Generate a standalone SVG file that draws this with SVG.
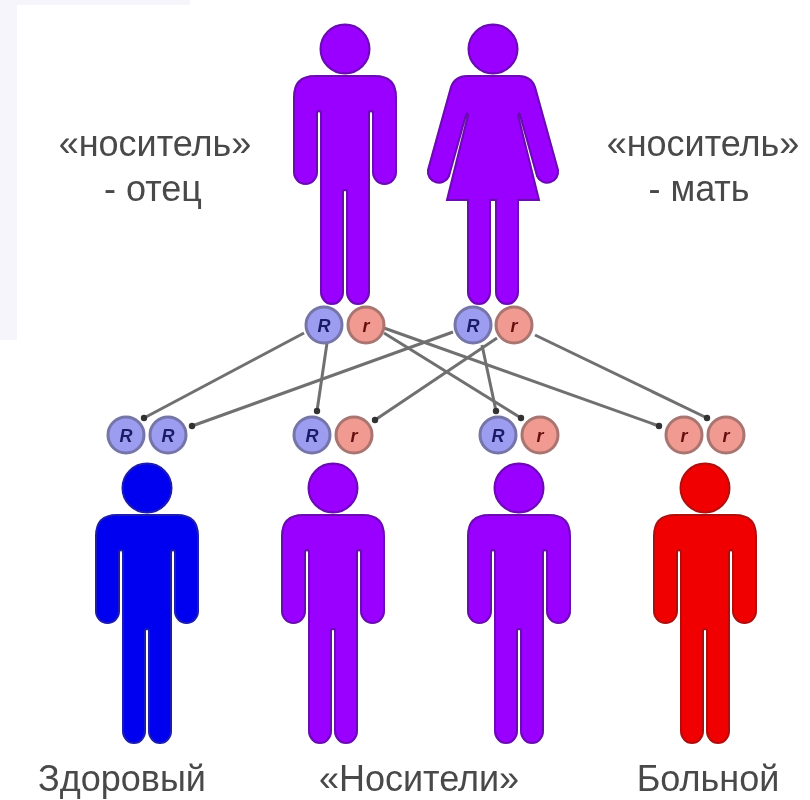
<svg xmlns="http://www.w3.org/2000/svg" width="810" height="800" viewBox="0 0 810 800">
<style>
.lbl{font-family:"Liberation Sans",Arial,sans-serif;font-size:36px;fill:#484848;text-anchor:middle}
.p{fill:#9900ff;stroke:#6a08b0;stroke-width:2}
.b{fill:#0000f0;stroke:#1a1ab0;stroke-width:2}
.d{fill:#f00000;stroke:#b01010;stroke-width:2}
.R{fill:#9c9cf0;stroke:#7474a8;stroke-width:3}
.r{fill:#f09a92;stroke:#a87470;stroke-width:3}
.gt{font-family:"Liberation Sans",Arial,sans-serif;font-size:18px;font-weight:bold;font-style:italic;text-anchor:middle}
.gR{fill:#1a1a66}.gr{fill:#661010}
.c line{stroke:#707070;stroke-width:3;marker-end:url(#dot)}
</style>
<defs>
<filter id="soft" x="-5%" y="-5%" width="110%" height="110%"><feGaussianBlur stdDeviation="0.6"/></filter>
<marker id="dot" markerUnits="userSpaceOnUse" markerWidth="8" markerHeight="8" refX="4" refY="4"><circle cx="4" cy="4" r="3.2" fill="#333"/></marker>
<g id="man">
<circle cx="0" cy="0" r="24.5"/>
<path d="M-30,27H30Q51,27 51,48V123A11.5,12 0 0 1 28,123V65Q28,62 26,62Q24,62 24,65V243A11,12 0 0 1 2,243V143Q2,141 0,141Q-2,141 -2,143V243A11,12 0 0 1 -24,243V65Q-24,62 -26,62Q-28,62 -28,65V123A11.5,12 0 0 1 -51,123V48Q-51,27 -30,27Z"/>
</g>
<g id="woman">
<circle cx="0" cy="0" r="24.5"/>
<path d="M-26,27H26Q38,27 42,38L65,121A11,11 0 0 1 44,127L27,66Q26,63 25,66L46,151H25V243A11,12 0 0 1 3,243V151H-3V243A11,12 0 0 1 -25,243V151H-46L-25,66Q-26,63 -27,66L-44,127A11,11 0 0 1 -65,121L-42,38Q-38,27 -26,27Z"/>
</g>
<g id="gR"><circle r="18" class="R"/><text y="6.5" class="gt gR">R</text></g>
<g id="gr"><circle r="18" class="r"/><text y="6.5" class="gt gr">r</text></g>
</defs>
<rect width="810" height="800" fill="#fff"/>
<path d="M0,0H190V5H17V340H0Z" fill="#f5f5fb"/>
<g filter="url(#soft)">
<g id="connectors" class="c">
<line x1="304" y1="333" x2="144" y2="418"/>
<line x1="327" y1="343" x2="317" y2="411"/>
<line x1="453" y1="332" x2="192" y2="426"/>
<line x1="497" y1="338" x2="375" y2="420"/>
<line x1="482" y1="345" x2="496" y2="411"/>
<line x1="384" y1="333" x2="521" y2="418"/>
<line x1="384" y1="328" x2="659" y2="426"/>
<line x1="535" y1="335" x2="707" y2="418"/>
</g>
<g id="father"><use href="#man" x="345" y="49" class="p"/></g>
<g id="mother"><use href="#woman" x="493" y="49" class="p"/></g>
<g id="father-genes"><use href="#gR" x="324" y="325"/><use href="#gr" x="366" y="325"/></g>
<g id="mother-genes"><use href="#gR" x="473" y="325"/><use href="#gr" x="514" y="325"/></g>
<g id="child-healthy"><use href="#gR" x="126" y="435"/><use href="#gR" x="168" y="435"/><use href="#man" x="147" y="488" class="b"/></g>
<g id="child-carrier-1"><use href="#gR" x="312" y="435"/><use href="#gr" x="354" y="435"/><use href="#man" x="333" y="488" class="p"/></g>
<g id="child-carrier-2"><use href="#gR" x="498" y="435"/><use href="#gr" x="540" y="435"/><use href="#man" x="519" y="488" class="p"/></g>
<g id="child-sick"><use href="#gr" x="684" y="435"/><use href="#gr" x="726" y="435"/><use href="#man" x="705" y="488" class="d"/></g>
</g>
<g id="labels" filter="url(#soft)">
<text class="lbl" x="155" y="156">«носитель»</text>
<text class="lbl" x="153" y="201">- отец</text>
<text class="lbl" x="703" y="156">«носитель»</text>
<text class="lbl" x="699" y="201">- мать</text>
<text class="lbl" x="122" y="791">Здоровый</text>
<text class="lbl" x="419" y="791">«Носители»</text>
<text class="lbl" x="708" y="791">Больной</text>
</g>
</svg>
